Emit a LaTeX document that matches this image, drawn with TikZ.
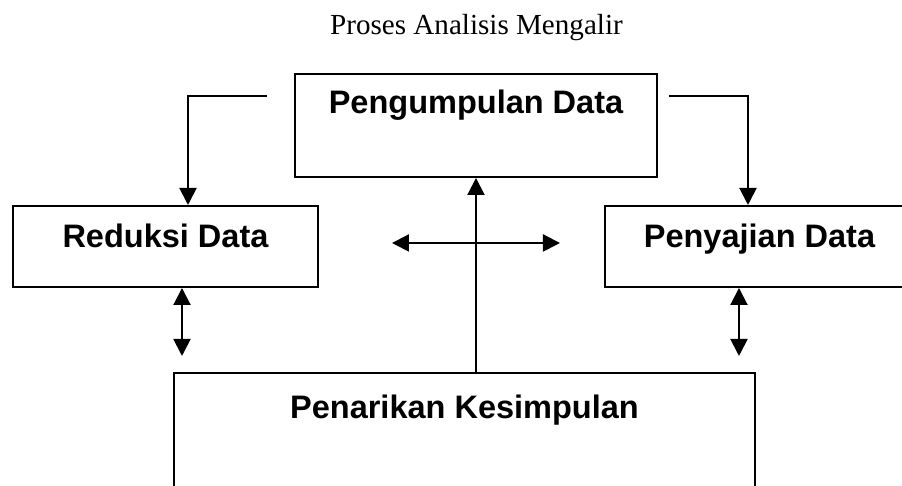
\documentclass[tikz,border=0pt]{standalone}
\usepackage{fontspec}
\setmainfont{Liberation Serif}
\setsansfont{Liberation Sans}
\usepackage{tikz}
\usetikzlibrary{arrows.meta, positioning}

\tikzset{
	stage/.style={draw, line width=0.02cm, inner sep=0pt, anchor=north west,
		font=\sffamily\bfseries\fontsize{9.25}{11}\selectfont},
	flow/.style={line width=0.02cm, -{Triangle[length=0.17cm, width=0.17cm]}},
	twoway/.style={line width=0.02cm, {Triangle[length=0.17cm, width=0.17cm]}-{Triangle[length=0.17cm, width=0.17cm]}}
}

\begin{document}
\begin{tikzpicture}
	\useasboundingbox (0, 0) rectangle (9.02, 4.86);
	\clip (0, 0) rectangle (9.02, 4.86);
	% Title:
	\node[font=\fontsize{8.28}{10}\selectfont, anchor=base](title) at (4.765, 4.51){Proses Analisis Mengalir};
	% Boxes:
	\node[stage, minimum width=3.62cm, text height=0.40cm, text depth=0.63cm](pengumpulan) at (2.94, 4.13){Pengumpulan Data};
	\node[stage, minimum width=3.05cm, text height=0.42cm, text depth=0.39cm](reduksi) at (0.12, 2.81){Reduksi Data};
	\node[stage, minimum width=3.09cm, text height=0.42cm, text depth=0.39cm](penyajian) at (6.04, 2.81){Penyajian Data};
	\node[stage, minimum width=5.81cm, text height=0.46cm, text depth=1.02cm](penarikan) at (1.73, 1.14){Penarikan Kesimpulan};
	% Free ends of the arrows:
	\coordinate (lfeed) at (2.67, 3.90);
	\coordinate (rfeed) at (6.69, 3.90);
	\coordinate (hl) at (3.92, 2.43);
	\coordinate (hr) at (5.60, 2.43);
	\coordinate (lgap) at (1.82, 1.30);
	\coordinate (rgap) at (7.39, 1.30);
	% Arrows:
	\draw[flow] (lfeed) -| ([xshift=0.225cm]reduksi.north);
	\draw[flow] (rfeed) -| ([xshift=-0.115cm]penyajian.north);
	\draw[flow] (penarikan.north -| pengumpulan.south) -- (pengumpulan.south);
	\draw[twoway] (hl) -- (hr);
	\draw[twoway] (reduksi.south -| lgap) -- (lgap);
	\draw[twoway] (penyajian.south -| rgap) -- (rgap);
\end{tikzpicture}
\end{document}
